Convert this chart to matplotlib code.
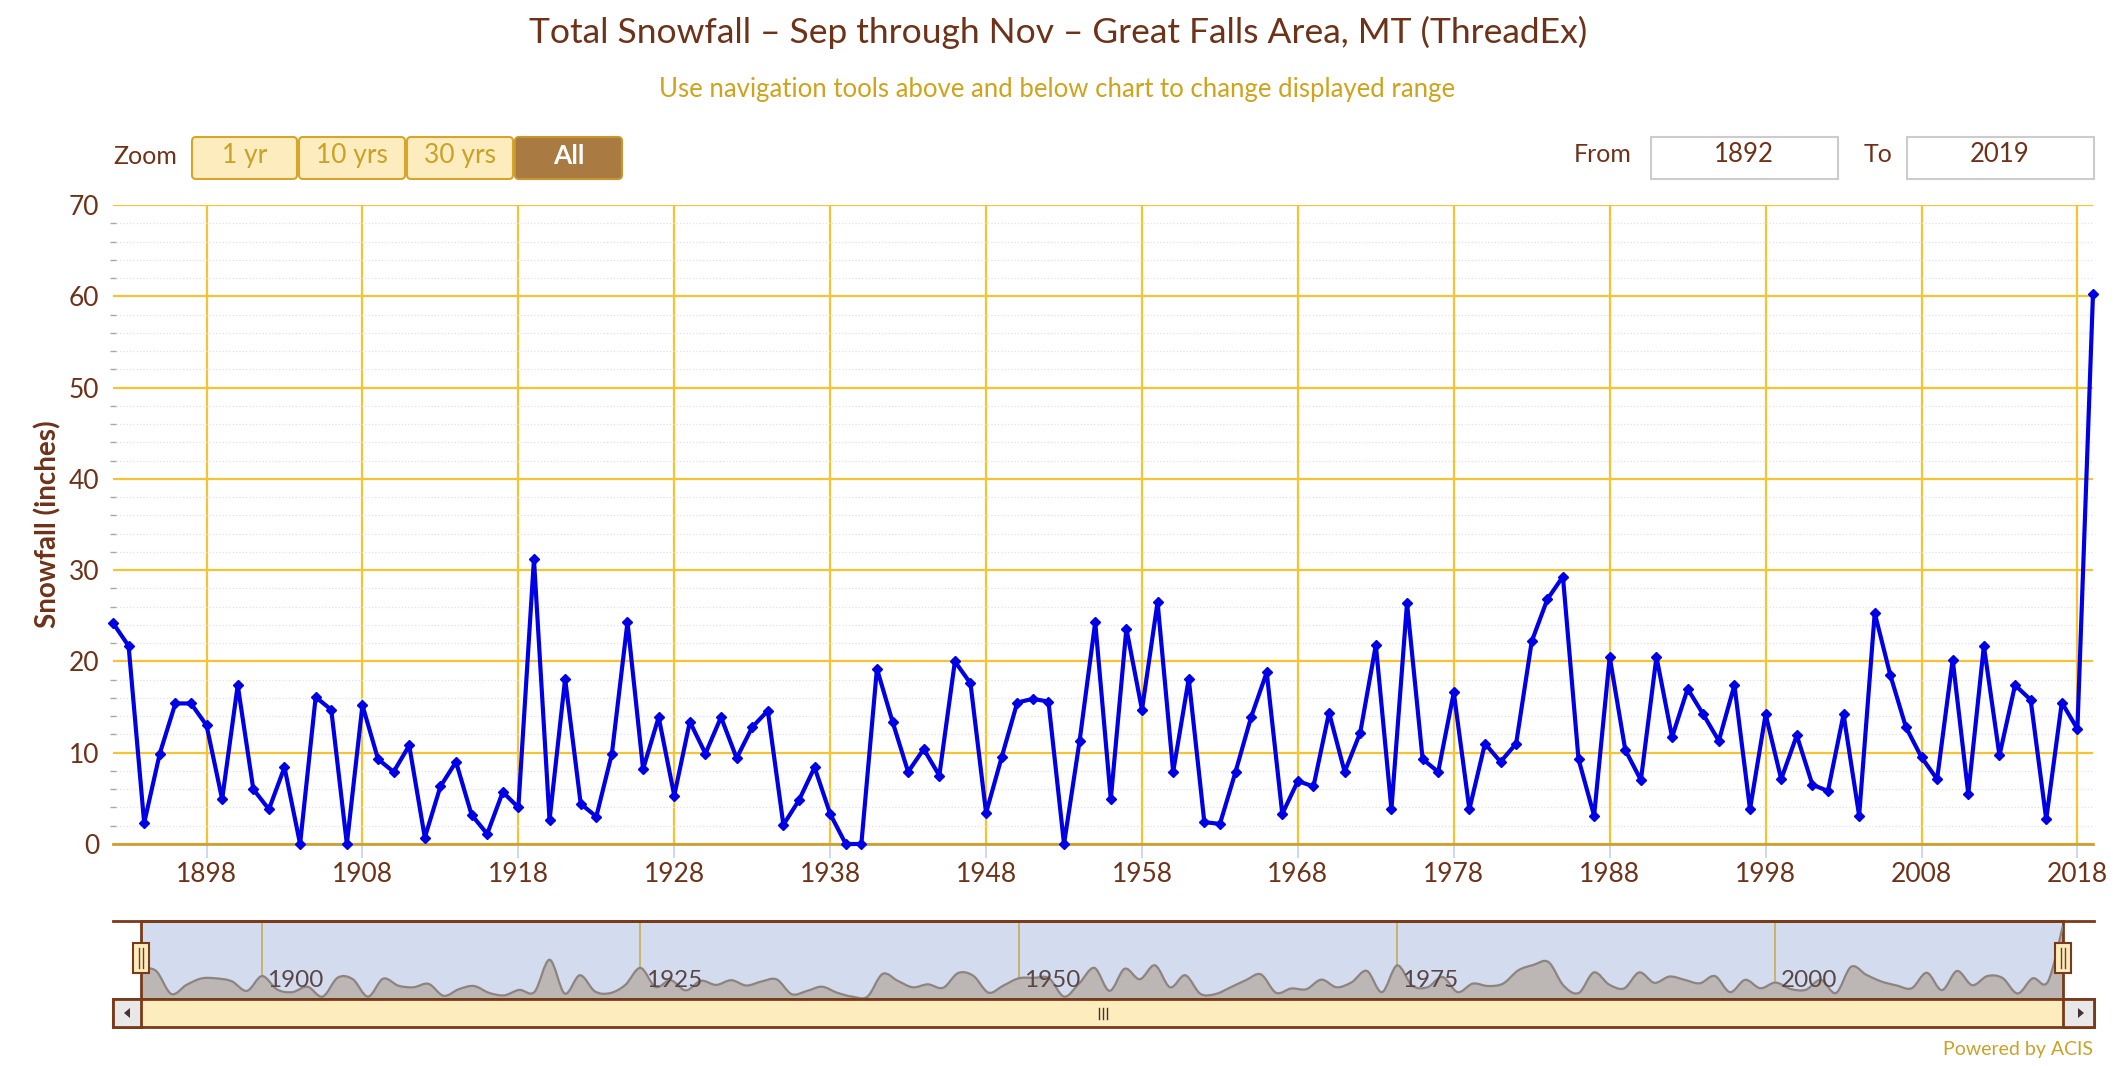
import numpy as np
import matplotlib.pyplot as plt
from matplotlib.patches import Rectangle, FancyBboxPatch, Polygon, PathPatch
from matplotlib.path import Path

plt.rcParams['font.family'] = ['Lato', 'DejaVu Sans']

# data (inches, Sep-Nov totals)
years = list(range(1892, 2020))
snowfall = [24.2, 21.7, 2.3, 9.9, 15.4, 15.4, 13.0, 4.9,
            17.4, 6.0, 3.8, 8.4, 0.0, 16.1, 14.7, 0.0, 15.2, 9.3,
            7.9, 10.8, 0.7, 6.3, 9.0, 3.2, 1.1, 5.7, 4.0, 31.2,
            2.6, 18.1, 4.4, 3.0, 9.9, 24.3, 8.2, 13.9, 5.3, 13.4,
            9.9, 13.9, 9.4, 12.8, 14.6, 2.1, 4.8, 8.4, 3.3, 0.0,
            0.0, 19.2, 13.4, 7.9, 10.4, 7.5, 20.0, 17.6, 3.4, 9.5,
            15.5, 15.9, 15.6, 0.0, 11.3, 24.3, 4.9, 23.6, 14.7, 26.5,
            7.9, 18.1, 2.4, 2.2, 7.9, 13.9, 18.8, 3.3, 6.9, 6.3,
            14.4, 7.9, 12.2, 21.8, 3.8, 26.4, 9.3, 7.9, 16.6, 3.8,
            11.0, 9.0, 11.0, 22.2, 26.8, 29.3, 9.3, 3.1, 20.5, 10.3,
            7.0, 20.5, 11.7, 17.0, 14.2, 11.3, 17.4, 3.8, 14.2, 7.1,
            11.9, 6.5, 5.8, 14.2, 3.1, 25.3, 18.5, 12.8, 9.5, 7.1,
            20.2, 5.5, 21.7, 9.7, 17.4, 15.8, 2.7, 15.5, 12.6, 60.3]
x_ticks = list(range(1898, 2019, 10))
nav_ticks = [1900, 1925, 1950, 1975, 2000]
zoom_buttons = ['1 yr', '10 yrs', '30 yrs', 'All']

W, H = 2114, 1066
brown = '#6e3219'
gold = '#c9a227'
grid_gold = '#f5c333'
pale = '#fdecbd'

fig = plt.figure(figsize=(W / 100, H / 100), dpi=100)

# overlay in pixel coords for the UI chrome
ui = fig.add_axes([0, 0, 1, 1])
ui.set_xlim(0, W)
ui.set_ylim(H, 0)
ui.axis('off')
ui.set_zorder(10)

ui.text(1058, 32, 'Total Snowfall \u2013 Sep through Nov \u2013 Great Falls Area, MT (ThreadEx)',
        ha='center', va='center', fontsize=25.5, color=brown)
ui.text(1057, 89, 'Use navigation tools above and below chart to change displayed range',
        ha='center', va='center', fontsize=18.5, color='#cfa31c')

# zoom buttons
ui.text(145, 157, 'Zoom', ha='center', va='center', fontsize=18, color=brown)
bx = [191, 298, 406, 514, 623]
for i, lab in enumerate(zoom_buttons):
    active = lab == 'All'
    ui.add_patch(FancyBboxPatch((bx[i] + 1, 137), bx[i + 1] - bx[i] - 2, 42,
                                boxstyle='round,pad=0,rounding_size=4',
                                fc='#a97a42' if active else pale,
                                ec='#c9952c' if active else '#d4a72c', lw=1.5))
    ui.text((bx[i] + bx[i + 1]) / 2, 156, lab, ha='center', va='center', fontsize=19,
            color='white' if active else gold, fontweight='bold' if active else 'normal')

# from / to boxes
ui.text(1632, 155, 'From', ha='right', va='center', fontsize=18, color=brown)
ui.add_patch(Rectangle((1651, 137), 187, 42, fc='white', ec='#cccccc', lw=1.5))
ui.text(1744, 155, str(years[0]), ha='center', va='center', fontsize=18.5, color=brown)
ui.text(1893, 155, 'To', ha='right', va='center', fontsize=18, color=brown)
ui.add_patch(Rectangle((1907, 137), 187, 42, fc='white', ec='#cccccc', lw=1.5))
ui.text(2000, 155, str(years[-1]), ha='center', va='center', fontsize=18.5, color=brown)

# main chart
ax = fig.add_axes([113 / W, 1 - 844 / H, (2093 - 113) / W, (844 - 205) / H])
ax.plot(years, snowfall, color='#0000e6', lw=3.0, marker='D', ms=5.5, zorder=3, clip_on=False)
ax.set_xlim(years[0], years[-1])
ax.set_ylim(0, 70)
ax.set_xticks(x_ticks)
ax.set_yticks(range(0, 71, 10))
ax.set_yticks(range(0, 71, 2), minor=True)
ax.grid(True, which='major', color=grid_gold, lw=1.6)
ax.grid(True, which='minor', axis='y', color='#e2e2e2', lw=0.9, ls=':')
ax.set_axisbelow(True)
for s in ['top', 'left', 'right']:
    ax.spines[s].set_visible(False)
ax.spines['bottom'].set_color('#c9a13a')
ax.spines['bottom'].set_linewidth(2)
ax.tick_params(axis='x', colors='#ccd6eb', length=10, width=1.3, labelcolor=brown,
               labelsize=19, pad=3)
ax.tick_params(axis='y', which='major', length=0, labelcolor=brown, labelsize=19, pad=10)
ax.tick_params(axis='y', which='minor', length=4, width=1, color='#a8a8a8', direction='inout')
ax.set_ylabel('Snowfall (inches)', fontsize=20, fontweight='bold', color=brown)
ax.yaxis.set_label_coords(-0.026, 0.5)

# navigator
ui.plot([113, 2094], [921, 921], color='#7a3a1a', lw=2)
nav = fig.add_axes([141 / W, 1 - 999 / H, (2063 - 141) / W, (999 - 921) / H])
nav.set_facecolor('#d3dbee')
nav.set_xlim(years[0], years[-1])
nav.set_ylim(-2, 64)
for s in nav.spines.values():
    s.set_color('#7a3a1a')
    s.set_linewidth(2)
nav.set_xticks(nav_ticks)
nav.set_yticks([])
nav.tick_params(axis='x', length=0, labelbottom=False)
nav.grid(True, axis='x', color='#c7ab55', lw=1.2)
nav.set_axisbelow(True)

# smooth area through the data points (cubic bezier segments)
xs = np.array(years, float)
ys = np.array(snowfall, float)
base = nav.get_ylim()[0]
verts = [(xs[0], base), (xs[0], ys[0])]
codes = [Path.MOVETO, Path.LINETO]
line_verts = [(xs[0], ys[0])]
line_codes = [Path.MOVETO]
n = len(xs)
for i in range(n - 1):
    p0 = i - 1 if i > 0 else i
    p3 = i + 2 if i + 2 < n else i + 1
    c1 = (xs[i] + (xs[i + 1] - xs[p0]) / 6, ys[i] + (ys[i + 1] - ys[p0]) / 6)
    c2 = (xs[i + 1] - (xs[p3] - xs[i]) / 6, ys[i + 1] - (ys[p3] - ys[i]) / 6)
    seg = [c1, c2, (xs[i + 1], ys[i + 1])]
    verts += seg
    codes += [Path.CURVE4] * 3
    line_verts += seg
    line_codes += [Path.CURVE4] * 3
verts += [(xs[-1], base), (xs[0], base)]
codes += [Path.LINETO, Path.CLOSEPOLY]
nav.add_patch(PathPatch(Path(verts, codes), fc='#bcb6b4', ec='none', zorder=2))
nav.add_patch(PathPatch(Path(line_verts, line_codes), fc='none', ec='#8e847f', lw=1.6, zorder=3))
for yr in nav_ticks:
    nav.text(yr + 0.35, 0.24, str(yr), transform=nav.get_xaxis_transform(),
             ha='left', va='center', fontsize=17.5, color='#5b4646', zorder=4)

# navigator handles
for hx in [141, 2063]:
    ui.add_patch(Rectangle((hx - 8, 943), 16, 30, fc=pale, ec='#7a3a1a', lw=1.5, zorder=5))
    ui.plot([hx - 2, hx - 2], [948, 968], color='#7a3a1a', lw=1, zorder=6)
    ui.plot([hx + 2, hx + 2], [948, 968], color='#7a3a1a', lw=1, zorder=6)

# scrollbar
ui.add_patch(Rectangle((113, 999), 2094 - 113, 28, fc=pale, ec='#7a3a1a', lw=2))
ui.add_patch(Rectangle((113, 999), 28, 28, fc='#e8e8e8', ec='#7a3a1a', lw=2))
ui.add_patch(Rectangle((2063, 999), 31, 28, fc='#e8e8e8', ec='#7a3a1a', lw=2))
ui.add_patch(Polygon([[124, 1013], [130, 1008], [130, 1018]], closed=True, fc='#4a3030'))
ui.add_patch(Polygon([[2084, 1013], [2078, 1008], [2078, 1018]], closed=True, fc='#4a3030'))
for dx in [-4, 0, 4]:
    ui.plot([1103 + dx, 1103 + dx], [1008, 1019], color='#4a3030', lw=1)

ui.text(2093, 1049, 'Powered by ACIS', ha='right', va='center', fontsize=14, color=gold)

fig.savefig('out.png', dpi=100)
